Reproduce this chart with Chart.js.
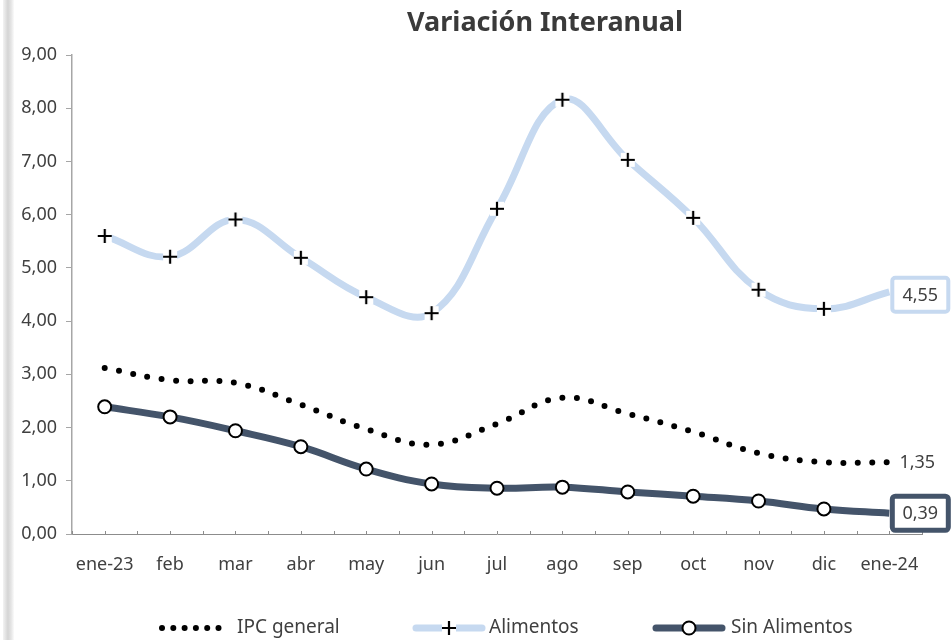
<!DOCTYPE html>
<html>
<head>
<meta charset="utf-8">
<script src="https://cdn.jsdelivr.net/npm/chart.js@4"></script>
<style>
  html, body { margin: 0; padding: 0; background: #fff; }
  #wrap { position: relative; width: 951px; height: 640px; }
  #strip { position: absolute; left: 3px; top: 0; width: 11px; height: 640px;
    background: linear-gradient(to right, #f3f3f3, #d4d4d4 45%, #e6e6e6 75%, #fbfbfb); }
  canvas { position: absolute; left: 0; top: 0; }
</style>
</head>
<body>
<div id="wrap">
  <div id="strip"></div>
  <canvas id="line-chart" width="951" height="640"></canvas>
</div>
<script>
const months = ['ene-23', 'feb', 'mar', 'abr', 'may', 'jun', 'jul', 'ago', 'sep', 'oct', 'nov', 'dic', 'ene-24'];
const ipcGeneral = [3.12, 2.89, 2.84, 2.43, 1.97, 1.68, 2.07, 2.56, 2.26, 1.92, 1.52, 1.35, 1.35];
const alimentos = [5.60, 5.21, 5.91, 5.19, 4.45, 4.15, 6.11, 8.16, 7.03, 5.94, 4.59, 4.23, 4.55];
const sinAlimentos = [2.39, 2.20, 1.94, 1.64, 1.22, 0.94, 0.86, 0.88, 0.79, 0.71, 0.62, 0.47, 0.39];
const yTicks = [0, 1, 2, 3, 4, 5, 6, 7, 8, 9];

const FONT = '"Noto Sans", sans-serif';
const TEXT = '#404040';
const LIGHT = '#c6d9f0';
const DARK = '#44546a';

const fmt = v => v.toFixed(2).replace('.', ',');

// cross marker with a white patch behind it (like the Excel marker)
function crossMarker() {
    const c = document.createElement('canvas');
    c.width = 18; c.height = 18;
    const g = c.getContext('2d');
    g.fillStyle = '#fff';
    g.fillRect(2, 2, 14, 14);
    g.strokeStyle = '#000';
    g.lineWidth = 2.2;
    g.beginPath();
    g.moveTo(2, 9); g.lineTo(16, 9);
    g.moveTo(9, 2); g.lineTo(9, 16);
    g.stroke();
    return c;
}
const cross = crossMarker();

const lastHidden = n => months.map((_, i) => i === months.length - 1 ? 0 : n);

const extras = {
    id: 'extras',
    afterDatasetsDraw(chart) {
        const ctx = chart.ctx;
        const area = chart.chartArea;
        ctx.save();

        // small ticks on the category axis
        ctx.strokeStyle = '#8c8c8c';
        ctx.lineWidth = 1;
        const step = (area.right - area.left) / months.length;
        for (let k = 0; k <= months.length * 2; k++) {
            const px = Math.round(area.left + k * step / 2) + 0.5;
            ctx.beginPath();
            ctx.moveTo(px, area.bottom);
            ctx.lineTo(px, area.bottom - 3);
            ctx.stroke();
        }

        // end labels
        const last = months.length - 1;
        ctx.font = '18px ' + FONT;
        ctx.textBaseline = 'middle';
        ctx.textAlign = 'center';
        chart.data.datasets.forEach((ds, i) => {
            const pt = chart.getDatasetMeta(i).data[last];
            const cx = pt.x + 31;
            const cy = pt.y + (i === 1 ? 3 : 0);
            if (ds.boxColor) {
                ctx.fillStyle = '#fff';
                ctx.strokeStyle = ds.boxColor;
                ctx.lineWidth = ds.boxWidth;
                ctx.beginPath();
                ctx.roundRect(cx - 28, cy - 17, 56, 34, 3);
                ctx.fill();
                ctx.stroke();
            }
            ctx.fillStyle = TEXT;
            ctx.fillText(fmt(ds.data[last]), cx + (ds.boxColor ? 0 : -3), cy + 1);
        });

        // title
        ctx.font = 'bold 27px ' + FONT;
        ctx.fillStyle = '#3a3a3a';
        ctx.textAlign = 'center';
        ctx.fillText('Variación Interanual', 545, 23);

        // legend
        const ly = 628;
        ctx.font = '19px ' + FONT;
        ctx.textAlign = 'left';
        const ds = chart.data.datasets;

        ctx.fillStyle = '#000';
        for (let k = 0; k < 6; k++) {
            ctx.beginPath();
            ctx.arc(162 + k * 11.3, ly, 3, 0, Math.PI * 2);
            ctx.fill();
        }
        ctx.fillStyle = TEXT;
        ctx.fillText(ds[0].label, 237, ly);

        ctx.lineCap = 'round';
        ctx.lineWidth = 7;
        ctx.strokeStyle = LIGHT;
        ctx.beginPath(); ctx.moveTo(416, ly); ctx.lineTo(482, ly); ctx.stroke();
        ctx.drawImage(cross, 449 - 9, ly - 9);
        ctx.fillText(ds[1].label, 489, ly);

        ctx.strokeStyle = DARK;
        ctx.beginPath(); ctx.moveTo(656, ly); ctx.lineTo(722, ly); ctx.stroke();
        ctx.fillStyle = '#fff';
        ctx.strokeStyle = '#000';
        ctx.lineWidth = 2;
        ctx.beginPath(); ctx.arc(689, ly, 6.5, 0, Math.PI * 2); ctx.fill(); ctx.stroke();
        ctx.fillStyle = TEXT;
        ctx.fillText(ds[2].label, 731, ly);

        ctx.restore();
    }
};

const ctx = document.getElementById('line-chart').getContext('2d');

const lineChart = new Chart(ctx, {
    type: 'line',
    data: {
        labels: months,
        datasets: [{
            label: 'IPC general',
            data: ipcGeneral,
            borderColor: '#000',
            borderWidth: 6,
            borderDash: [0, 14.5],
            borderCapStyle: 'round',
            pointRadius: 0,
            tension: 0.4
        }, {
            label: 'Alimentos',
            data: alimentos,
            borderColor: LIGHT,
            borderWidth: 7,
            pointStyle: cross,
            pointRadius: lastHidden(7),
            pointHoverRadius: lastHidden(7),
            tension: 0.4,
            boxColor: LIGHT,
            boxWidth: 4
        }, {
            label: 'Sin Alimentos',
            data: sinAlimentos,
            borderColor: DARK,
            borderWidth: 7,
            pointStyle: 'circle',
            pointRadius: lastHidden(6.5),
            pointHoverRadius: lastHidden(6.5),
            pointBackgroundColor: '#fff',
            pointBorderColor: '#000',
            pointBorderWidth: 2,
            tension: 0.4,
            boxColor: DARK,
            boxWidth: 5
        }]
    },
    options: {
        responsive: false,
        animation: false,
        layout: { padding: { top: 55, right: 29, bottom: 0, left: 0 } },
        plugins: {
            legend: { display: false },
            title: { display: false },
            tooltip: { enabled: false }
        },
        scales: {
            x: {
                offset: true,
                afterFit: s => { s.height = 106; },
                grid: { display: false },
                border: { color: '#8c8c8c', width: 1, dash: [2, 1] },
                ticks: { color: TEXT, font: { family: FONT, size: 18 }, padding: 12, maxRotation: 0 }
            },
            y: {
                min: 0,
                max: 9,
                afterFit: s => { s.width = 72; },
                afterBuildTicks: s => { s.ticks = yTicks.map(v => ({ value: v })); },
                grid: { drawOnChartArea: false, tickLength: 6, color: '#a6a6a6' },
                border: { color: '#a6a6a6', width: 1.5 },
                ticks: {
                    color: TEXT,
                    font: { family: FONT, size: 18 },
                    padding: 9,
                    callback: v => fmt(v)
                }
            }
        }
    },
    plugins: [extras]
});
</script>
</body>
</html>
